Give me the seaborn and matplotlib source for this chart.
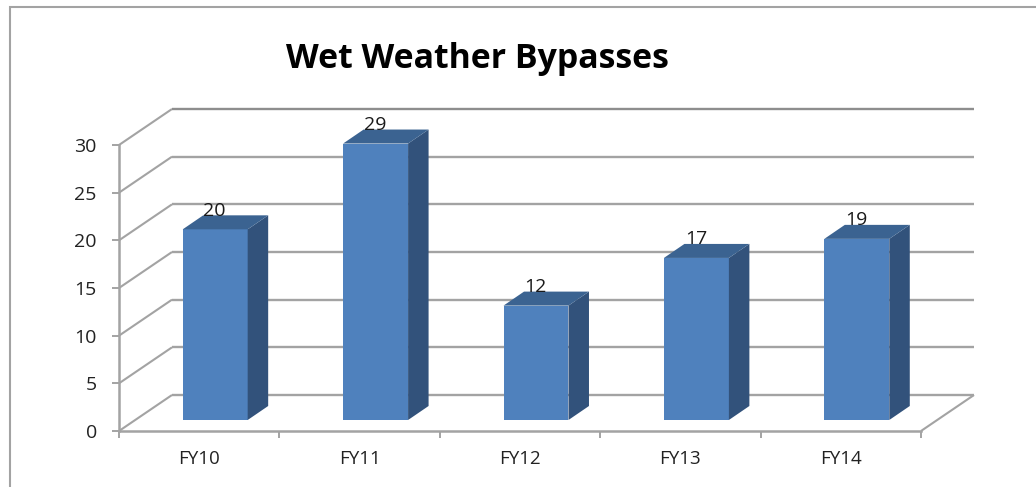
import matplotlib
matplotlib.use("Agg")
import matplotlib.pyplot as plt
import pandas as pd
import seaborn as sns
from matplotlib.patches import Polygon, Rectangle
from matplotlib.transforms import Affine2D, IdentityTransform

fiscal_years = ["FY10", "FY11", "FY12", "FY13", "FY14"]
bypasses = [20, 29, 12, 17, 19]
y_ticks = [0, 5, 10, 15, 20, 25, 30]

W, H, DPI = 1036, 487, 100
GREY = "#a3a3a3"
FRONT, SIDE, TOP = "#4f81bd", "#32527b", "#3b6391"

# Pixel depth of the pseudo-3D box and of the columns standing inside it
WALL = (53, 36)
BAR_NEAR = (16, 11)
BAR_DEEP = (20.5, 14)

sns.set_theme(style="white")
plt.rcParams["font.family"] = ["Open Sans", "DejaVu Sans"]

fig = plt.figure(figsize=(W / DPI, H / DPI), dpi=DPI, facecolor="white")
ax = fig.add_axes([119 / W, 1 - 431 / H, (921 - 119) / W, (431 - 145) / H])

df = pd.DataFrame({"year": fiscal_years, "count": bypasses})
sns.barplot(data=df, x="year", y="count", order=fiscal_years, color=FRONT,
            saturation=1, width=0.405, linewidth=0, ax=ax, zorder=3)
ax.set_xlim(-0.5, len(fiscal_years) - 0.5)
ax.set_ylim(0, y_ticks[-1])
ax.set_xlabel("")
ax.set_ylabel("")
ax.patch.set_alpha(0)
fig.canvas.draw()

to_px = ax.transData.transform
identity = IdentityTransform()


def px_line(p, q, color=GREY, lw=1.7, z=1):
    ax.plot([p[0], q[0]], [p[1], q[1]], color=color, lw=lw, transform=identity,
            clip_on=False, zorder=z, solid_capstyle="butt")


# Back wall gridlines and their diagonals along the left wall
x_lo, x_hi = ax.get_xlim()
for v in y_ticks:
    a = to_px((x_lo, v))
    b = (a[0] + WALL[0], a[1] + WALL[1])
    c = to_px((x_hi, v))
    shade = "#8e8e8e" if v == y_ticks[-1] else GREY
    px_line(a, b, lw=1.5)
    px_line(b, (c[0] + WALL[0], c[1] + WALL[1]), color=shade)

# Floor edge on the right side
a = to_px((x_hi, 0))
px_line(a, (a[0] + WALL[0], a[1] + WALL[1]), lw=1.5)

# Columns: shift the front faces into the box, then add side and top faces
shift = Affine2D().translate(BAR_NEAR[0], BAR_NEAR[1])
for bar, value in zip(ax.patches, bypasses):
    x0, x1 = bar.get_x(), bar.get_x() + bar.get_width()
    fl = to_px((x0, 0)) + BAR_NEAR
    fr = to_px((x1, 0)) + BAR_NEAR
    tl = to_px((x0, value)) + BAR_NEAR
    tr = to_px((x1, value)) + BAR_NEAR
    bar.set_transform(ax.transData + shift)
    bar.set_clip_on(False)
    dx, dy = BAR_DEEP
    ax.add_patch(Polygon([fr, (fr[0] + dx, fr[1] + dy), (tr[0] + dx, tr[1] + dy), tr],
                         closed=True, facecolor=SIDE, edgecolor="none",
                         transform=identity, clip_on=False, zorder=3))
    ax.add_patch(Polygon([tl, tr, (tr[0] + dx, tr[1] + dy), (tl[0] + dx, tl[1] + dy)],
                         closed=True, facecolor=TOP, edgecolor="none",
                         transform=identity, clip_on=False, zorder=3))
    # Value label sits over the column's top face
    ax.text((tl[0] + tr[0]) / 2 - 0.5, tl[1] + 18.5, str(value), transform=identity,
            ha="center", va="center", fontsize=14, color="#1a1a1a", zorder=5)

# Axes and ticks
for side in ("top", "right"):
    ax.spines[side].set_visible(False)
for side in ("left", "bottom"):
    ax.spines[side].set_color(GREY)
    ax.spines[side].set_linewidth(1.8)
ax.set_yticks(y_ticks)
ax.set_xticks([i - 0.5 for i in range(len(fiscal_years) + 1)], minor=True)
ax.tick_params(axis="x", which="major", length=0, pad=13.5, labelsize=13.5, labelcolor="#222222")
ax.tick_params(axis="x", which="minor", length=5, width=1.4, color=GREY, bottom=True)
ax.tick_params(axis="y", length=5, width=1.4, color=GREY, left=True, pad=11,
               labelsize=14, labelcolor="#222222")

fig.text(477 / W, 1 - 59 / H, "Wet Weather Bypasses", ha="center", va="center",
         fontsize=24.4, fontweight="bold", color="black")

# Outer chart border, running off the right and bottom edges
fig.add_artist(Rectangle((9.5 / W, -0.1), 1.2, 0.1 + (1 - 6.5 / H),
                         transform=fig.transFigure, facecolor="none",
                         edgecolor=GREY, linewidth=1.5))

fig.savefig("out.png", dpi=DPI, facecolor="white")
